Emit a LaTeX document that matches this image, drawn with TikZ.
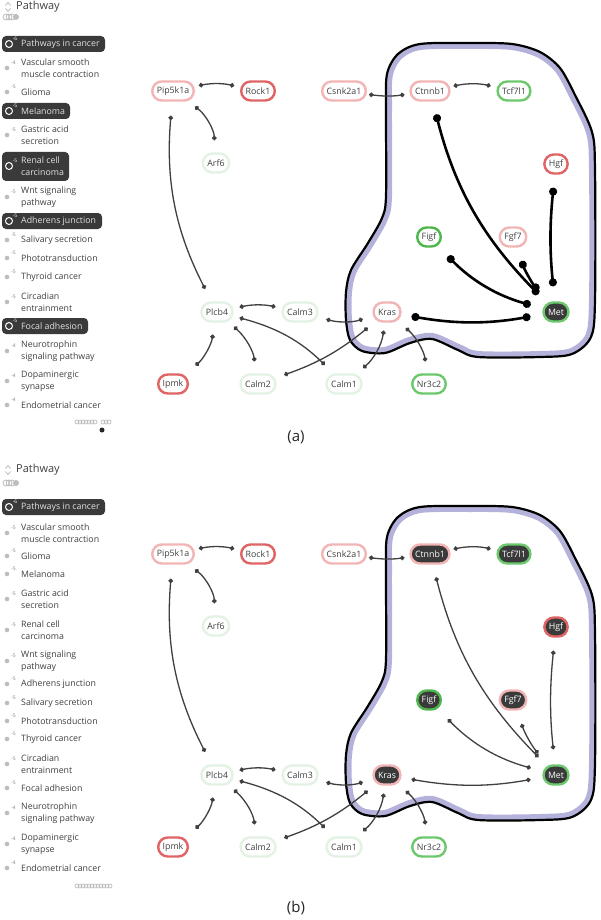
\documentclass[tikz,border=0pt]{standalone}
\usepackage{fontspec}
\setmainfont{Open Sans}
\usetikzlibrary{arrows.meta}

\definecolor{pinkline}{HTML}{F2B4B4}
\definecolor{redline}{HTML}{E06464}
\definecolor{greenline}{HTML}{6CC86C}
\definecolor{paleline}{HTML}{E4F2E4}
\definecolor{hullband}{HTML}{B4B2DA}
\definecolor{darkfill}{HTML}{3A3A3A}
\definecolor{textgray}{HTML}{404040}
\definecolor{boxtext}{HTML}{E2E2E2}
\definecolor{linkgray}{HTML}{404040}
\definecolor{dotgray}{HTML}{BDBDBD}

\newcommand{\hullshape}{plot[smooth cycle, tension=0.5] coordinates {
  (386,110) (387,74) (398,54) (420,44) (470,43) (512,44) (540,52) (560,68)
  (575,95) (592,132) (595,170) (595,300) (591,337) (572,354) (540,357)
  (478,357) (458,350) (432,339) (410,343) (385,353) (362,351) (350,340)
  (346,320) (346,292) (351,270) (368,243) (382,218) (386,196)}}

\tikzset{
  gene/.style={rectangle, rounded corners=9.5pt, line width=2.4pt,
    minimum height=19pt, minimum width=22pt, inner xsep=4.5pt, inner ysep=0pt,
    fill=white, text=textgray, font=\fontsize{8.8}{9}\selectfont},
  pinkgene/.style={gene, draw=pinkline},
  redgene/.style={gene, draw=redline},
  greengene/.style={gene, draw=greenline},
  palegene/.style={gene, draw=paleline},
  hit/.style={fill=darkfill, text=white},
  link/.style={draw=linkgray, line width=1.3pt,
    {Circle[length=4.5pt]}-{Circle[length=4.5pt]}, shorten <=8pt, shorten >=8pt},
  boldlink/.style={draw=black, line width=2.6pt,
    {Circle[length=8pt]}-{Circle[length=8pt]}, shorten <=12pt, shorten >=12pt},
  entry/.style={anchor=west, inner sep=0pt, align=left, text=textgray,
    font=\fontsize{8.8}{12}\selectfont},
  head/.style={anchor=west, inner sep=0pt, text=textgray,
    font=\fontsize{11}{12}\selectfont},
  pval/.style={inner sep=0pt, text=gray, font=\fontsize{5}{5}\selectfont},
  dot/.style={circle, fill=dotgray, minimum size=4.6pt, inner sep=0pt},
  ring/.style={circle, draw=white, line width=1pt, minimum size=7pt, inner sep=0pt},
  panellabel/.style={font=\fontsize{15}{17}\selectfont, text=black!85}
}

\begin{document}
\begin{tikzpicture}[x=1pt, y=-1pt]
\useasboundingbox[fill=white] (0,0) rectangle (600,920);

% ---------- panel (a): pathway list
\draw[dotgray, line width=0.8pt] (5.5,5.5) -- (8,2.5) -- (10.5,5.5)
  (5.5,8.5) -- (8,11.5) -- (10.5,8.5);
\path (16,7) node[head] (headA) {Pathway};
\draw[dotgray, line width=0.8pt] (6,17) circle (3) (9,17) circle (3) (12,17) circle (3);
\fill[dotgray] (16,17) circle (3);

\fill[darkfill, rounded corners=4pt] (2,36) rectangle (105,52);
\path (9,44) node[ring] (da1) {} (15,39) node[pval, text=white] (sa1) {-6}
  (21,44) node[entry, text=boxtext] (la1) {Pathways in cancer};
\path (7,68) node[dot] (da2) {} (13.5,63) node[pval] (sa2) {-4}
  (21,68) node[entry] (la2) {Vascular smooth\\muscle contraction};
\path (7,92) node[dot] (da3) {} (13.5,87) node[pval] (sa3) {-5}
  (21,92) node[entry] (la3) {Glioma};
\fill[darkfill, rounded corners=4pt] (2,103) rectangle (70,119);
\path (9,111) node[ring] (da4) {} (15,106) node[pval, text=white] (sa4) {-5}
  (21,111) node[entry, text=boxtext] (la4) {Melanoma};
\path (7,135) node[dot] (da5) {} (13.5,130) node[pval] (sa5) {-5}
  (21,135) node[entry] (la5) {Gastric acid\\secretion};
\fill[darkfill, rounded corners=4pt] (2,152) rectangle (69,181);
\path (9,166) node[ring] (da6) {} (15,161) node[pval, text=white] (sa6) {-5}
  (21,166) node[entry, text=boxtext] (la6) {Renal cell\\carcinoma};
\path (7,197) node[dot] (da7) {} (13.5,192) node[pval] (sa7) {-5}
  (21,197) node[entry] (la7) {Wnt signaling\\pathway};
\fill[darkfill, rounded corners=4pt] (2,213) rectangle (102,229);
\path (9,221) node[ring] (da8) {} (15,216) node[pval, text=white] (sa8) {-5}
  (21,221) node[entry, text=boxtext] (la8) {Adherens junction};
\path (7,240) node[dot] (da9) {} (13.5,235) node[pval] (sa9) {-5}
  (21,240) node[entry] (la9) {Salivary secretion};
\path (7,258) node[dot] (da10) {} (13.5,253) node[pval] (sa10) {-5}
  (21,258) node[entry] (la10) {Phototransduction};
\path (7,277) node[dot] (da11) {} (13.5,272) node[pval] (sa11) {-5}
  (21,277) node[entry] (la11) {Thyroid cancer};
\path (7,302) node[dot] (da12) {} (13.5,297) node[pval] (sa12) {-5}
  (21,302) node[entry] (la12) {Circadian\\entrainment};
\fill[darkfill, rounded corners=4pt] (2,318) rectangle (88,334);
\path (9,326) node[ring] (da13) {} (15,321) node[pval, text=white] (sa13) {-5}
  (21,326) node[entry, text=boxtext] (la13) {Focal adhesion};
\path (7,351) node[dot] (da14) {} (13.5,346) node[pval] (sa14) {-4}
  (21,351) node[entry] (la14) {Neurotrophin\\signaling pathway};
\path (7,381) node[dot] (da15) {} (13.5,376) node[pval] (sa15) {-4}
  (21,381) node[entry] (la15) {Dopaminergic\\synapse};
\path (7,405) node[dot] (da16) {} (13.5,400) node[pval] (sa16) {-4}
  (21,405) node[entry] (la16) {Endometrial cancer};
\draw[dotgray, line width=0.7pt] (77,422) circle (2) (80,422) circle (2) (83,422) circle (2)
  (86,422) circle (2) (89,422) circle (2) (92,422) circle (2) (95,422) circle (2)
  (103,422) circle (2) (106,422) circle (2) (109,422) circle (2);
\fill[black!85] (102,430) circle (2.5);

% ---------- panel (a): network
\begin{scope}
  \clip \hullshape;
  \draw[hullband, line width=12pt] \hullshape;
\end{scope}
\draw[black, line width=2.2pt] \hullshape;

\path (173,91) node[pinkgene] (pipA) {Pip5k1a}
      (258,91) node[redgene] (rockA) {Rock1}
      (344,91) node[pinkgene] (csnkA) {Csnk2a1}
      (430,91) node[pinkgene] (ctnnbA) {Ctnnb1}
      (514,91) node[greengene] (tcfA) {Tcf7l1}
      (216,163) node[palegene] (arfA) {Arf6}
      (556,164) node[redgene] (hgfA) {Hgf}
      (429,237) node[greengene, draw=green!60!black!70] (figfA) {Figf}
      (513,237) node[pinkgene] (fgfA) {Fgf7}
      (217,312) node[palegene] (plcbA) {Plcb4}
      (300,312) node[palegene] (calm3A) {Calm3}
      (387,312) node[pinkgene] (krasA) {Kras}
      (556,312) node[greengene, hit] (metA) {Met}
      (173,384) node[redgene] (ipmkA) {Ipmk}
      (258,384) node[palegene] (calm2A) {Calm2}
      (344,384) node[palegene] (calm1A) {Calm1}
      (429,384) node[greengene] (nr3cA) {Nr3c2};

\draw[link, shorten <=4pt, shorten >=6pt] (pipA) to[bend left=12] (rockA);
\draw[link, shorten >=12pt] (pipA) to[bend left=25] (arfA);
\draw[link, shorten <=14pt, shorten >=14pt] (pipA) to[bend right=16] (plcbA);
\draw[link, shorten <=2pt, shorten >=5pt] (csnkA) to[bend right=8] (ctnnbA);
\draw[link, shorten <=3pt, shorten >=6pt] (ctnnbA) to[bend left=12] (tcfA);
\draw[link, shorten <=6pt, shorten >=6pt] (plcbA) to[bend left=12] (calm3A);
\draw[link, shorten <=6pt, shorten >=12pt] (plcbA) to[bend left=15] (calm1A);
\draw[link, shorten <=6pt, shorten >=12pt] (plcbA) to[bend left=20] (calm2A);
\draw[link, shorten <=12pt, shorten >=12pt] (plcbA) to[bend left=20] (ipmkA);
\draw[link, shorten >=10pt] (calm3A) to[bend right=16] (krasA);
\draw[link] (calm2A) to[bend right=10] (krasA);
\draw[link] (calm1A) to[bend right=20] (krasA);
\draw[link, shorten >=12pt] (krasA) to[bend left=20] (nr3cA);
\draw[boldlink, shorten <=13pt, shorten >=10pt] (ctnnbA) to[bend right=15] (metA);
\draw[boldlink, shorten <=13pt, shorten >=15pt] (hgfA) to[bend right=6] (metA);
\draw[boldlink] (figfA) to[bend right=15] (metA);
\draw[boldlink, shorten <=14pt, shorten >=14pt] (fgfA) to[bend right=10] (metA);
\draw[boldlink, shorten <=10pt] (krasA) to[bend right=10] (metA);

\path (296,437) node[panellabel] (labelA) {(a)};

% ---------- panel (b): pathway list
\draw[dotgray, line width=0.8pt] (5.5,468.5) -- (8,465.5) -- (10.5,468.5)
  (5.5,471.5) -- (8,474.5) -- (10.5,471.5);
\path (16,470) node[head] (headB) {Pathway};
\draw[dotgray, line width=0.8pt] (6,483) circle (3) (9,483) circle (3) (12,483) circle (3);
\fill[dotgray] (16,483) circle (3);

\fill[darkfill, rounded corners=4pt] (2,499) rectangle (105,515);
\path (9,507) node[ring] (db1) {} (15,502) node[pval, text=white] (sb1) {-6}
  (21,507) node[entry, text=boxtext] (lb1) {Pathways in cancer};
\path (7,533) node[dot] (db2) {} (13.5,528) node[pval] (sb2) {-5}
  (21,533) node[entry] (lb2) {Vascular smooth\\muscle contraction};
\path (7,556) node[dot] (db3) {} (13.5,551) node[pval] (sb3) {-5}
  (21,556) node[entry] (lb3) {Glioma};
\path (7,574) node[dot] (db4) {} (13.5,569) node[pval] (sb4) {-5}
  (21,574) node[entry] (lb4) {Melanoma};
\path (7,599) node[dot] (db5) {} (13.5,594) node[pval] (sb5) {-5}
  (21,599) node[entry] (lb5) {Gastric acid\\secretion};
\path (7,630) node[dot] (db6) {} (13.5,625) node[pval] (sb6) {-5}
  (21,630) node[entry] (lb6) {Renal cell\\carcinoma};
\path (7,661) node[dot] (db7) {} (13.5,656) node[pval] (sb7) {-5}
  (21,661) node[entry] (lb7) {Wnt signaling\\pathway};
\path (7,684) node[dot] (db8) {} (13.5,679) node[pval] (sb8) {-5}
  (21,684) node[entry] (lb8) {Adherens junction};
\path (7,703) node[dot] (db9) {} (13.5,698) node[pval] (sb9) {-5}
  (21,703) node[entry] (lb9) {Salivary secretion};
\path (7,721) node[dot] (db10) {} (13.5,716) node[pval] (sb10) {-5}
  (21,721) node[entry] (lb10) {Phototransduction};
\path (7,739) node[dot] (db11) {} (13.5,734) node[pval] (sb11) {-5}
  (21,739) node[entry] (lb11) {Thyroid cancer};
\path (7,764) node[dot] (db12) {} (13.5,759) node[pval] (sb12) {-5}
  (21,764) node[entry] (lb12) {Circadian\\entrainment};
\path (7,788) node[dot] (db13) {} (13.5,783) node[pval] (sb13) {-5}
  (21,788) node[entry] (lb13) {Focal adhesion};
\path (7,813) node[dot] (db14) {} (13.5,808) node[pval] (sb14) {-4}
  (21,813) node[entry] (lb14) {Neurotrophin\\signaling pathway};
\path (7,844) node[dot] (db15) {} (13.5,839) node[pval] (sb15) {-4}
  (21,844) node[entry] (lb15) {Dopaminergic\\synapse};
\path (7,868) node[dot] (db16) {} (13.5,863) node[pval] (sb16) {-4}
  (21,868) node[entry] (lb16) {Endometrial cancer};
\draw[dotgray, line width=0.7pt] (77,886) circle (2) (80,886) circle (2) (83,886) circle (2)
  (86,886) circle (2) (89,886) circle (2) (92,886) circle (2) (95,886) circle (2)
  (98,886) circle (2) (101,886) circle (2) (104,886) circle (2) (107,886) circle (2)
  (110,886) circle (2);

% ---------- panel (b): network
\begin{scope}[shift={(0,463)}]
  \begin{scope}
    \clip \hullshape;
    \draw[hullband, line width=12pt] \hullshape;
  \end{scope}
  \draw[black, line width=2.2pt] \hullshape;
\end{scope}

\path (173,554) node[pinkgene] (pipB) {Pip5k1a}
      (258,554) node[redgene] (rockB) {Rock1}
      (344,554) node[pinkgene] (csnkB) {Csnk2a1}
      (430,554) node[pinkgene, hit] (ctnnbB) {Ctnnb1}
      (514,554) node[greengene, hit] (tcfB) {Tcf7l1}
      (216,626) node[palegene] (arfB) {Arf6}
      (556,627) node[redgene, hit] (hgfB) {Hgf}
      (429,700) node[greengene, draw=green!60!black!70, hit] (figfB) {Figf}
      (513,700) node[pinkgene, hit] (fgfB) {Fgf7}
      (217,775) node[palegene] (plcbB) {Plcb4}
      (300,775) node[palegene] (calm3B) {Calm3}
      (387,775) node[pinkgene, hit] (krasB) {Kras}
      (556,775) node[greengene, hit] (metB) {Met}
      (173,847) node[redgene] (ipmkB) {Ipmk}
      (258,847) node[palegene] (calm2B) {Calm2}
      (344,847) node[palegene] (calm1B) {Calm1}
      (429,847) node[greengene] (nr3cB) {Nr3c2};

\draw[link, shorten <=4pt, shorten >=6pt] (pipB) to[bend left=12] (rockB);
\draw[link, shorten >=12pt] (pipB) to[bend left=25] (arfB);
\draw[link, shorten <=14pt, shorten >=14pt] (pipB) to[bend right=16] (plcbB);
\draw[link, shorten <=2pt, shorten >=5pt] (csnkB) to[bend right=8] (ctnnbB);
\draw[link, shorten <=3pt, shorten >=6pt] (ctnnbB) to[bend left=12] (tcfB);
\draw[link, shorten <=6pt, shorten >=6pt] (plcbB) to[bend left=12] (calm3B);
\draw[link, shorten <=6pt, shorten >=12pt] (plcbB) to[bend left=15] (calm1B);
\draw[link, shorten <=6pt, shorten >=12pt] (plcbB) to[bend left=20] (calm2B);
\draw[link, shorten <=12pt, shorten >=12pt] (plcbB) to[bend left=20] (ipmkB);
\draw[link, shorten >=10pt] (calm3B) to[bend right=16] (krasB);
\draw[link] (calm2B) to[bend right=10] (krasB);
\draw[link] (calm1B) to[bend right=20] (krasB);
\draw[link, shorten >=12pt] (krasB) to[bend left=20] (nr3cB);
\draw[link, shorten <=13pt, shorten >=10pt] (ctnnbB) to[bend right=15] (metB);
\draw[link, shorten <=13pt, shorten >=15pt] (hgfB) to[bend right=6] (metB);
\draw[link, shorten <=12pt, shorten >=12pt] (figfB) to[bend right=15] (metB);
\draw[link, shorten <=14pt, shorten >=14pt] (fgfB) to[bend right=10] (metB);
\draw[link, shorten <=10pt, shorten >=12pt] (krasB) to[bend right=10] (metB);

\path (296,908) node[panellabel] (labelB) {(b)};
\end{tikzpicture}
\end{document}
